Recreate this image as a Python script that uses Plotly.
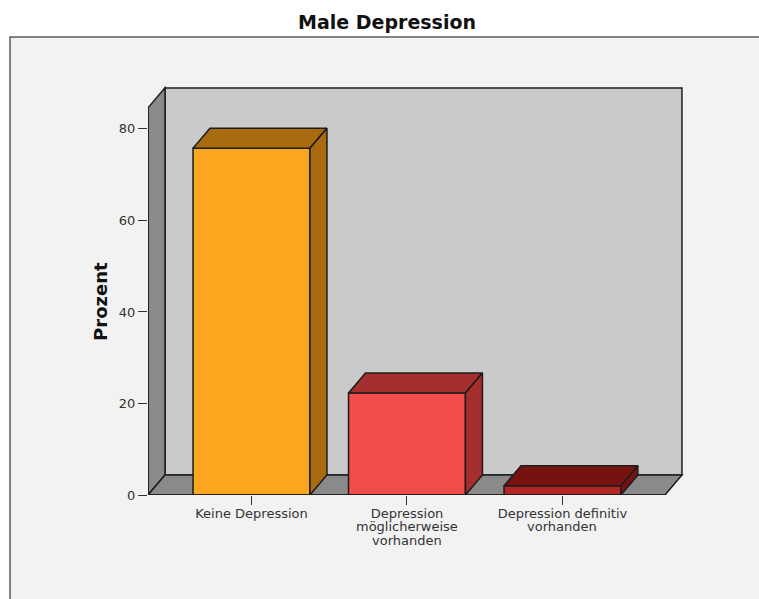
import plotly.graph_objects as go

# Data
category_lines = [["Keine Depression"],
                  ["Depression", "möglicherweise", "vorhanden"],
                  ["Depression definitiv", "vorhanden"]]
percent = [75.8, 22.3, 2.0]
positions = [0, 1, 2]
y_ticks = [0, 20, 40, 60, 80]

front_colors = ["#faa61e", "#f44c4a", "#b32524"]
shade_colors = ["#a86b10", "#a52e2e", "#761210"]

# Pseudo-3D box expressed in axis units
bar_width = 0.752
depth_x = 0.1093
depth_y = 4.37
y_front_top = 84.6
x_left = -0.6656
x_front_right = 2.659
x_max = 2.788
y_max = 89.6

EDGE = "#1c1c1c"
EDGE_W = 1.5


def path(points):
    return "M " + " L ".join(f"{x},{y}" for x, y in points) + " Z"


def wall(points, fill):
    return dict(type="path", path=path(points), xref="x", yref="y", layer="below",
                fillcolor=fill, line=dict(color=EDGE, width=EDGE_W))


def face(points, fill):
    xs = [p[0] for p in points] + [points[0][0]]
    ys = [p[1] for p in points] + [points[0][1]]
    return go.Scatter(x=xs, y=ys, mode="lines", fill="toself", fillcolor=fill,
                      line=dict(color=EDGE, width=EDGE_W), cliponaxis=False,
                      hoverinfo="skip", showlegend=False)


fig = go.Figure()

# Front faces
fig.add_trace(go.Bar(x=positions, y=percent, width=bar_width,
                     marker=dict(color=front_colors, line=dict(color=EDGE, width=EDGE_W)),
                     hovertemplate="%{y}<extra></extra>", showlegend=False))

# Top and side faces of each bar
for pos, val, shade in zip(positions, percent, shade_colors):
    x0, x1 = pos - bar_width / 2, pos + bar_width / 2
    fig.add_trace(face([(x0, val), (x0 + depth_x, val + depth_y),
                        (x1 + depth_x, val + depth_y), (x1, val)], shade))
    fig.add_trace(face([(x1, 0), (x1 + depth_x, depth_y),
                        (x1 + depth_x, val + depth_y), (x1, val)], shade))

# Left and bottom rims of the box sit on the plot edge
fig.add_trace(go.Scatter(x=[x_left, x_left, x_front_right], y=[y_front_top, 0, 0],
                         mode="lines", line=dict(color=EDGE, width=EDGE_W),
                         cliponaxis=False, hoverinfo="skip", showlegend=False))

back_x0 = x_left + depth_x
back_x1 = x_front_right + depth_x
back_top = y_front_top + depth_y

plot_w = 537
plot_h = 410
shapes = [
    # Grey chart panel behind the box, running off the page on the right and bottom
    dict(type="rect", xref="paper", yref="paper", layer="below",
         x0=(10 - 148) / plot_w, x1=(790 - 148) / plot_w,
         y0=(495 - 630) / plot_h, y1=(495 - 37) / plot_h,
         fillcolor="#f2f2f2", line=dict(color="#5c5c5c", width=1.5)),
    wall([(back_x0, depth_y), (back_x0, back_top), (back_x1, back_top), (back_x1, depth_y)], "#cacaca"),
    wall([(x_left, 0), (x_left, y_front_top), (back_x0, back_top), (back_x0, depth_y)], "#8a8a8a"),
    wall([(x_left, 0), (back_x0, depth_y), (back_x1, depth_y), (x_front_right, 0)], "#8a8a8a"),
]

label_font = dict(family="DejaVu Sans", size=13, color="#333333")
annotations = [
    dict(text="Prozent", textangle=-90, xref="paper", yref="y", x=0, y=y_front_top / 2,
         xshift=-60, showarrow=False, font=dict(family="DejaVu Sans", size=18, color="#111111", weight="bold")),
]
# Continuation lines of the category labels, set tighter than a normal line break
for pos, lines in zip(positions, category_lines):
    for i, line in enumerate(lines[1:], start=1):
        annotations.append(dict(text=line, xref="x", yref="paper", x=pos, y=0, yanchor="middle",
                                yshift=-(18 + 13.5 * i), showarrow=False, font=label_font))

fig.update_layout(
    width=759, height=599, autosize=False,
    margin=dict(l=148, r=74, t=85, b=104),
    paper_bgcolor="#ffffff", plot_bgcolor="rgba(0,0,0,0)",
    title=dict(text="Male Depression", xref="container", yref="container",
               x=387 / 759, y=1 - 22 / 599, xanchor="center", yanchor="middle",
               font=dict(family="DejaVu Sans", size=19, color="#111111", weight="bold")),
    xaxis=dict(range=[x_left, x_max], tickmode="array", tickvals=positions,
               ticktext=[lines[0] for lines in category_lines],
               ticks="outside", ticklen=9, tickwidth=1.2, tickcolor="#333333",
               ticklabelstandoff=-3,
               tickangle=0, tickfont=label_font, showgrid=False, zeroline=False, showline=False),
    yaxis=dict(range=[0, y_max], tickmode="array", tickvals=y_ticks,
               ticks="outside", ticklen=9, tickwidth=1.2, tickcolor="#333333",
               tickfont=label_font, showgrid=False, zeroline=False, showline=False),
    shapes=shapes,
    annotations=annotations,
)

fig.write_html("out.html", config=dict(displayModeBar=False))
